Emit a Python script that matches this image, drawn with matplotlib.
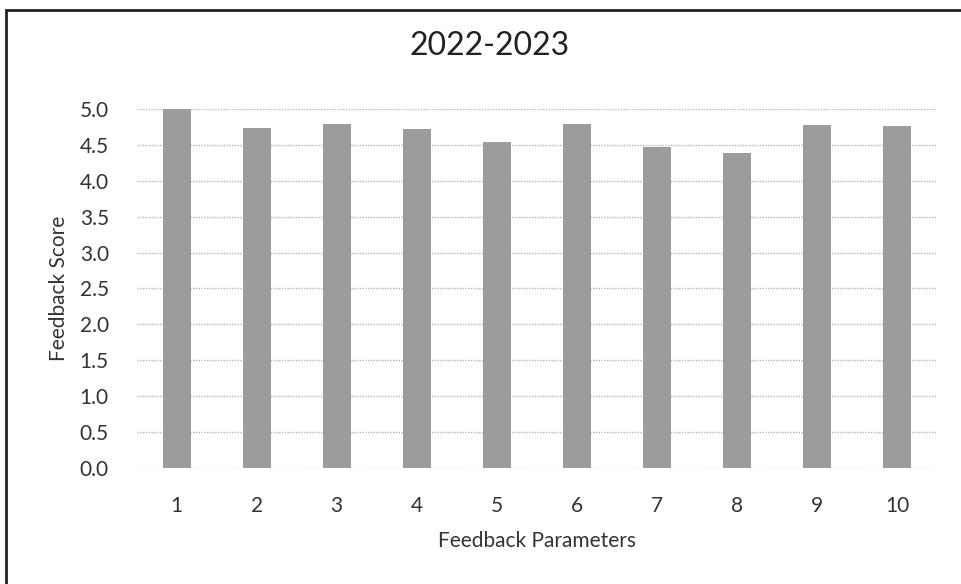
import matplotlib.pyplot as plt
from matplotlib.patches import Rectangle

# 피드백 점수 데이터
parameters = ["1", "2", "3", "4", "5", "6", "7", "8", "9", "10"]
scores = [5.0, 4.74, 4.8, 4.73, 4.54, 4.8, 4.47, 4.39, 4.78, 4.77]
yticks = [0.0, 0.5, 1.0, 1.5, 2.0, 2.5, 3.0, 3.5, 4.0, 4.5, 5.0]

plt.rcParams['font.family'] = ['Lato', 'DejaVu Sans']

fig = plt.figure(figsize=(9.62, 5.84), dpi=100)
ax = fig.add_axes([0.142, 0.199, 0.832, 0.614])

x = range(len(parameters))
ax.bar(x, scores, width=0.35, color="#9c9c9c", zorder=3)

ax.set_xlim(-0.5, len(parameters) - 0.5)
ax.set_ylim(0, 5.0)
ax.set_yticks(yticks)
ax.set_yticklabels([f"{v:.1f}" for v in yticks], fontsize=15, color="#333333")
ax.set_xticks(list(x))
ax.set_xticklabels(parameters, fontsize=15, color="#333333")
ax.tick_params(axis="x", length=0, pad=20)
ax.tick_params(axis="y", length=0, pad=20)

ax.grid(axis="y", color="#b5b5b5", linestyle=(0, (1, 1)), linewidth=1, zorder=0)
for s in ax.spines.values():
    s.set_visible(False)

fig.text(490 / 962, 1 - 46 / 584, "2022-2023", fontsize=23, color="#222222",
         ha="center", va="center")
ax.set_xlabel("Feedback Parameters", fontsize=15, color="#333333", labelpad=11)
ax.set_ylabel("Feedback Score", fontsize=15, color="#333333", labelpad=8)

# 스캔 이미지 테두리
fig.add_artist(Rectangle((0.006, -0.02), 1.0, 1.0 - 10 / 584 + 0.02, transform=fig.transFigure,
                         fill=False, edgecolor="#222222", linewidth=2))

plt.savefig("out.png")
plt.close()
